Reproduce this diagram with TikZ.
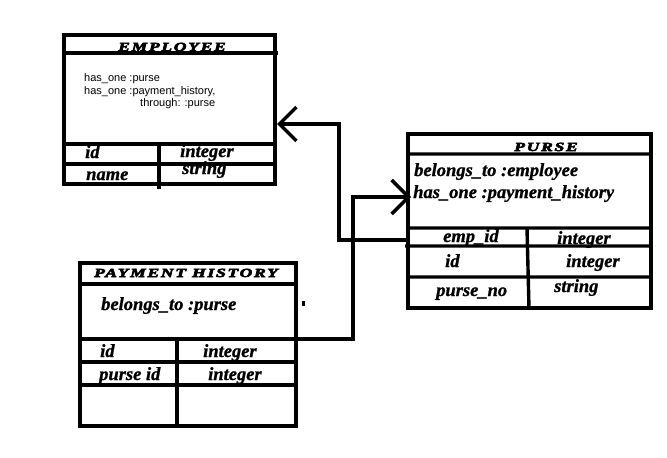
\documentclass[tikz,border=0pt]{standalone}
\usepackage{fontspec}
\setmainfont{Liberation Serif}
\newfontfamily\notefont{Liberation Sans}
\usetikzlibrary{arrows.meta}
\newcommand{\tabletitle}[1]{\scalebox{1.4}[1]{\bfseries\itshape\addfontfeature{LetterSpace=10,FakeBold=4}#1}}
\tikzset{
  box/.style={line width=3.4pt},
  field/.style={anchor=base west, inner sep=0pt, font=\fontsize{18.5}{18.5}\selectfont\bfseries\itshape\addfontfeature{FakeBold=1}},
  note/.style={anchor=base west, inner sep=0pt, font=\notefont\fontsize{11}{11}\selectfont},
  title/.style={anchor=base, inner sep=0pt, font=\fontsize{12.5}{12.5}\selectfont},
  link/.style={line width=3.4pt, -{Straight Barb[length=17pt,width=34pt]}}
}
\begin{document}
\begin{tikzpicture}[x=1pt,y=-1pt]
\useasboundingbox (0,0) rectangle (667,458);

% employee
\draw[box] (64,35) rectangle (275,184);
\draw[box] (64,53) -- (278,53) (64,144) -- (275,144) (64,164) -- (275,164) (159,144) -- (159,189);
\node[title] (emp-title) at (172,51) {\tabletitle{EMPLOYEE}};
\node[note] (emp-n1) at (84,81) {has\_one :purse};
\node[note] (emp-n2) at (84,94) {has\_one :payment\_history,};
\node[note] (emp-n3) at (140,106) {through: :purse};
\node[field] (emp-id) at (85,158) {id};
\node[field] (emp-idt) at (180,157) {integer};
\node[field] (emp-name) at (86,180) {name};
\node[field] (emp-namet) at (182,174) {string};

% purse
\draw[box] (408,134) rectangle (651,308);
\draw[box] (408,154) -- (651,154) (408,228) -- (651,228) (405,246) -- (651,246) (408,277) -- (651,277) (527,228) -- (529,308);
\node[title] (purse-title) at (546,151) {\tabletitle{PURSE}};
\node[field] (purse-n1) at (414,176) {belongs\_to :employee};
\node[field] (purse-n2) at (413,198) {has\_one :payment\_history};
\node[field] (purse-emp) at (443,242) {emp\_id};
\node[field] (purse-empt) at (557,244) {integer};
\node[field] (purse-id) at (445,267) {id};
\node[field] (purse-idt) at (566,267) {integer};
\node[field] (purse-no) at (436,296) {purse\_no};
\node[field] (purse-not) at (554,292) {string};

% payment history
\draw[box] (80,263) rectangle (296,426);
\draw[box] (80,284) -- (298,284) (80,339) -- (296,339) (80,362) -- (296,362) (80,385) -- (296,385) (177,339) -- (177,426);
\node[title] (pay-title) at (186,277) {\tabletitle{PAYMENT HISTORY}};
\node[field] (pay-n1) at (101,310) {belongs\_to :purse};
\node[field] (pay-id) at (100,357) {id};
\node[field] (pay-idt) at (203,357) {integer};
\node[field] (pay-pid) at (99,380) {purse id};
\node[field] (pay-pidt) at (208,380) {integer};
\fill (302,301) rectangle (305,306);

\coordinate (purse-out) at (408,240);
\coordinate (emp-in) at (277,124);
\coordinate (pay-out) at (296,339);
\coordinate (purse-in) at (411,197);
\draw[link] (purse-out) -- ++(-69,0) |- (emp-in);
\draw[link] (pay-out) -- ++(57,0) |- (purse-in);
\end{tikzpicture}
\end{document}
